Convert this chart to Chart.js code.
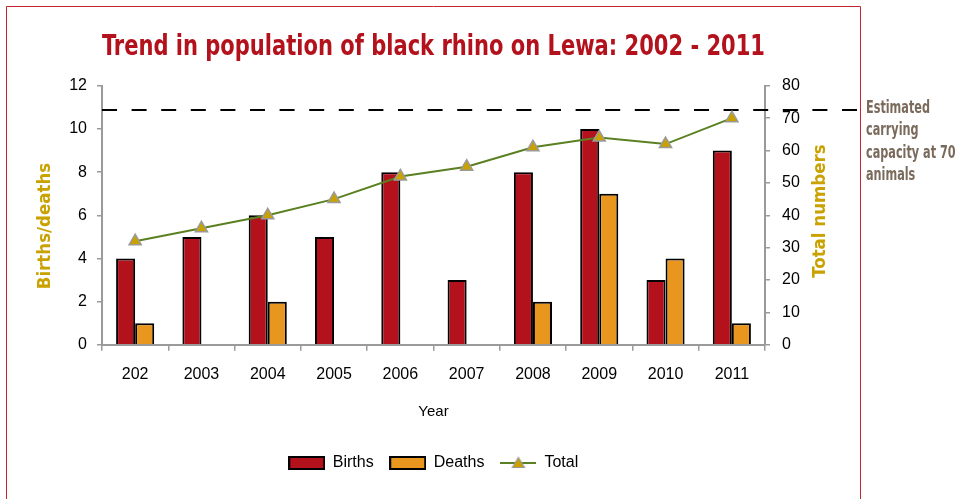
<!DOCTYPE html>
<html><head><meta charset="utf-8">
<script src="https://cdn.jsdelivr.net/npm/chart.js@4/dist/chart.umd.min.js"></script>
<style>html,body{margin:0;padding:0;background:#fff;overflow:hidden}#wrap{position:relative;width:956px;height:499px}</style>
</head><body><div id="wrap"><canvas id="c" width="956" height="499"></canvas></div>
<script>
// ---- data ----
const years = ['202','2003','2004','2005','2006','2007','2008','2009','2010','2011'];
const births = [4,5,6,5,8,3,8,10,3,9];
const deaths = [1,0,2,0,0,0,2,7,4,1];
const totals = [32,36,40,45,52,55,61,64,62,70];
const leftTickValues = [0,2,4,6,8,10,12];
const rightTickValues = [0,10,20,30,40,50,60,70,80];
const capacityLevel = 72.5; // dashed line, read on the right axis
const titleText = 'Trend in population of black rhino on Lewa: 2002 - 2011';
const leftAxisTitle = 'Births/deaths';
const rightAxisTitle = 'Total numbers';
const noteLines = ['Estimated','carrying','capacity at 70','animals'];

const RED = '#B3121C', ORANGE = '#E8961E', GREEN = '#5B8021', GOLD = '#C9A200';
const TICKFONT = '"Liberation Sans", Arial, sans-serif';
const CONDENSED = '"DejaVu Sans Condensed", "Liberation Sans", sans-serif';

function swatch(fill){
  const c=document.createElement('canvas'); c.width=37; c.height=14;
  const x=c.getContext('2d'); x.fillStyle=fill; x.fillRect(1,1,35,12);
  x.strokeStyle='#000'; x.lineWidth=2; x.strokeRect(1,1,35,12); return c;
}
function lineSwatch(){
  const c=document.createElement('canvas'); c.width=36; c.height=14;
  const x=c.getContext('2d'); x.strokeStyle=GREEN; x.lineWidth=2;
  x.beginPath(); x.moveTo(0,7); x.lineTo(36,7); x.stroke();
  x.beginPath(); x.moveTo(18,1.5); x.lineTo(24,11.5); x.lineTo(12,11.5); x.closePath();
  x.fillStyle=GOLD; x.fill(); x.strokeStyle='#999'; x.lineWidth=1.2; x.stroke(); return c;
}
const legendStyles=[swatch(RED),swatch(ORANGE),lineSwatch()];

function condensedText(ctx,text,x,y,sx){
  ctx.save(); ctx.translate(x,y); ctx.scale(sx,1); ctx.fillText(text,0,0); ctx.restore();
}

const decor = {
  id:'decor',
  beforeDraw(chart){
    const ctx=chart.ctx; ctx.save();
    ctx.strokeStyle='#C4262E'; ctx.lineWidth=1;
    ctx.beginPath(); ctx.moveTo(6.5,520); ctx.lineTo(6.5,6.5); ctx.lineTo(860.5,6.5); ctx.lineTo(860.5,520); ctx.stroke();
    ctx.restore();
  },
  beforeDatasetsDraw(chart){
    const ctx=chart.ctx, a=chart.chartArea, y1=chart.scales.y1;
    const y=Math.round(y1.getPixelForValue(capacityLevel));
    ctx.save(); ctx.strokeStyle='#000'; ctx.lineWidth=2; ctx.setLineDash([15,14.6]);
    ctx.beginPath(); ctx.moveTo(a.left,y); ctx.lineTo(858,y); ctx.stroke(); ctx.restore();
  },
  afterDraw(chart){
    const ctx=chart.ctx; ctx.save();
    ctx.fillStyle=GOLD; ctx.font='bold 18.5px '+CONDENSED; ctx.textAlign='center'; ctx.textBaseline='middle';
    ctx.save(); ctx.translate(45,226); ctx.rotate(-Math.PI/2); ctx.fillText(leftAxisTitle,0,0); ctx.restore();
    ctx.save(); ctx.translate(820,211); ctx.rotate(-Math.PI/2); ctx.fillText(rightAxisTitle,0,0); ctx.restore();
    ctx.restore(); ctx.save();
    ctx.fillStyle='#7A6A5B'; ctx.font='bold 17px '+CONDENSED; ctx.textAlign='left'; ctx.textBaseline='alphabetic';
    const sx = 64/ctx.measureText(noteLines[0]).width;
    const base=[113,135.3,157.6,180];
    noteLines.forEach((t,i)=>condensedText(ctx,t,866,base[i],sx));
    ctx.restore();
  }
};

new Chart(document.getElementById('c'),{
  type:'bar',
  data:{labels:years,datasets:[
    {label:'Births',data:births,backgroundColor:RED,borderColor:'#000',borderWidth:2,borderSkipped:'bottom',yAxisID:'y',order:2,barPercentage:1,categoryPercentage:0.575},
    {label:'Deaths',data:deaths,backgroundColor:ORANGE,borderColor:'#000',borderWidth:2,borderSkipped:'bottom',yAxisID:'y',order:2,barPercentage:1,categoryPercentage:0.575},
    {type:'line',label:'Total',data:totals,yAxisID:'y1',order:0,borderColor:GREEN,borderWidth:2,tension:0,
     pointStyle:'triangle',pointRadius:7,pointBackgroundColor:GOLD,pointBorderColor:'#9a9a9a',pointBorderWidth:1.5,pointHoverRadius:7}
  ]},
  options:{
    responsive:false,animation:false,events:[],
    layout:{padding:{left:20,right:126,top:0,bottom:18}},
    plugins:{
      title:{display:true,text:titleText,fullSize:false,color:'#B3121C',font:{family:CONDENSED,size:29,weight:'bold'},padding:{top:30,bottom:21}},
      legend:{position:'bottom',fullSize:false,labels:{usePointStyle:true,pointStyleWidth:36,boxHeight:14,padding:16,color:'#000',font:{family:TICKFONT,size:16},
        generateLabels(chart){
          const items=Chart.defaults.plugins.legend.labels.generateLabels(chart);
          items.forEach(it=>{it.pointStyle=legendStyles[it.datasetIndex];});
          items.sort((a,b)=>a.datasetIndex-b.datasetIndex);
          return items;
        }}},
      tooltip:{enabled:false}
    },
    scales:{
      x:{offset:true,grid:{offset:true,display:true,drawOnChartArea:false,drawTicks:true,tickLength:6,color:'#9a9a9a',lineWidth:1.5},
        border:{display:true,color:'#9a9a9a',width:2},
        ticks:{color:'#000',font:{family:TICKFONT,size:16},padding:14,maxRotation:0},
        title:{display:true,text:'Year',color:'#000',font:{family:TICKFONT,size:15},padding:{top:5,bottom:18}}},
      y:{position:'left',min:0,max:12,
        afterBuildTicks(s){s.ticks=leftTickValues.map(v=>({value:v}));},
        afterFit(s){s.width=82;},
        grid:{drawOnChartArea:false,drawTicks:true,tickLength:5,color:'#9a9a9a',lineWidth:1.5},
        border:{display:true,color:'#9a9a9a',width:2},
        ticks:{color:'#000',font:{family:TICKFONT,size:16},padding:10}},
      y1:{position:'right',min:0,max:80,
        afterBuildTicks(s){s.ticks=rightTickValues.map(v=>({value:v}));},
        afterFit(s){s.width=65;},
        grid:{drawOnChartArea:false,drawTicks:true,tickLength:5,color:'#9a9a9a',lineWidth:1.5},
        border:{display:true,color:'#9a9a9a',width:2},
        ticks:{color:'#000',font:{family:TICKFONT,size:16},padding:12}}
    }
  },
  plugins:[decor]
});
</script></body></html>
